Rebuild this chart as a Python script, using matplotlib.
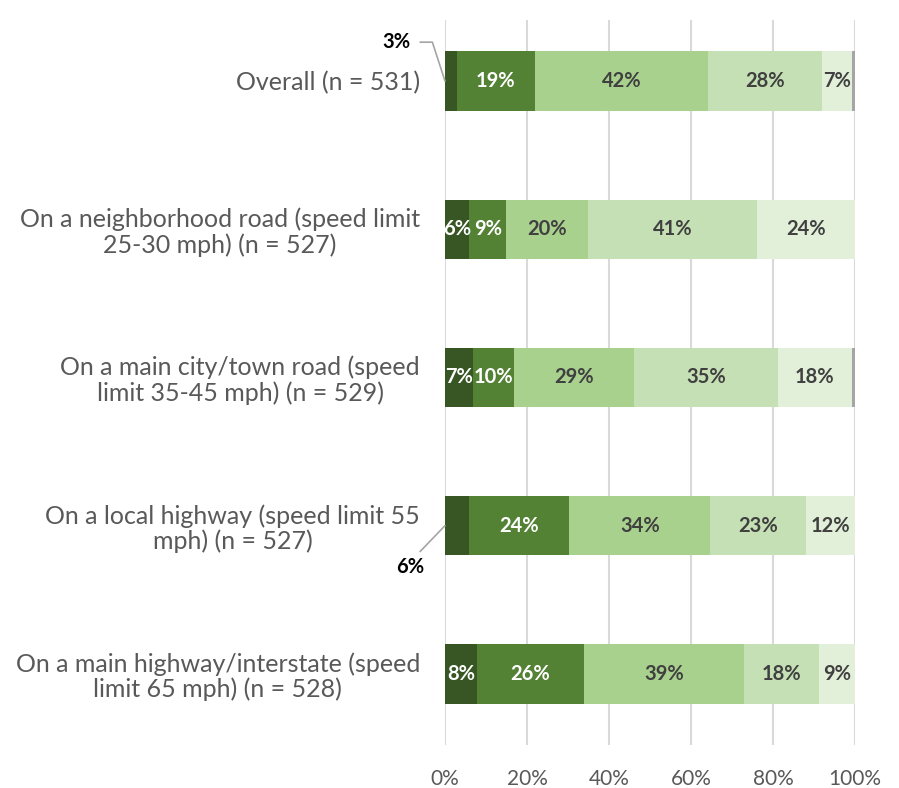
import matplotlib
matplotlib.use("Agg")
import matplotlib.pyplot as plt
import numpy as np

plt.rcParams['font.family'] = ['Lato', 'DejaVu Sans']

categories = [
    "Overall (n = 531)",
    "On a neighborhood road (speed limit\n25-30 mph) (n = 527)",
    "On a main city/town road (speed\nlimit 35-45 mph) (n = 529)",
    "On a local highway (speed limit 55\nmph) (n = 527)",
    "On a main highway/interstate (speed\nlimit 65 mph) (n = 528)",
]
seg1 = [2.9, 5.9, 6.8, 5.9, 7.8]
seg2 = [19.0, 9.0, 10.0, 24.4, 26.1]
seg3 = [42.2, 20.0, 29.3, 34.4, 39.0]
seg4 = [27.8, 41.2, 35.1, 23.4, 18.3]
seg5 = [7.3, 23.9, 18.0, 11.9, 8.8]
seg6 = [0.8, 0.0, 0.8, 0.0, 0.0]
xticks = [0, 20, 40, 60, 80, 100]
xticklabels = ["0%", "20%", "40%", "60%", "80%", "100%"]

series = [seg1, seg2, seg3, seg4, seg5, seg6]
colors = ["#375623", "#548235", "#A9D18E", "#C5E0B4", "#E2F0D9", "#A5A5A5"]
text_colors = ["white", "white", "#404040", "#404040", "#404040", None]

W, H = 899, 788
fig = plt.figure(figsize=(W / 100, H / 100), dpi=100)
ax = fig.add_axes([445 / W, 1 - 745 / H, 410 / W, 725 / H])

y = np.arange(len(categories))
left = np.zeros(len(categories))
for i, (vals, c) in enumerate(zip(series, colors)):
    vals = np.array(vals)
    ax.barh(y, vals, left=left, height=0.4, color=c, zorder=3)
    if text_colors[i] is not None:
        for j, v in enumerate(vals):
            if (i == 0 and j in (0, 3)):
                continue
            ax.text(left[j] + v / 2, y[j], f"{round(v)}%", ha="center", va="center",
                    color=text_colors[i], fontsize=14.5, fontweight="bold", zorder=4)
    left += vals

# callout labels for small segments
ax.annotate(f"{round(seg1[0])}%", xy=(0, y[0]), xytext=(-35, 28), textcoords="offset points",
            ha="center", va="center", fontsize=14.5, fontweight="bold", color="black",
            arrowprops=dict(arrowstyle="-", color="#A5A5A5", lw=1.2,
                            connectionstyle="angle,angleA=0,angleB=108,rad=0",
                            relpos=(1, 0.5), shrinkA=5, shrinkB=0), zorder=5)
ax.annotate(f"{round(seg1[3])}%", xy=(0, y[3]), xytext=(-25, -30), textcoords="offset points",
            ha="center", va="center", fontsize=14.5, fontweight="bold", color="black",
            arrowprops=dict(arrowstyle="-", color="#A5A5A5", lw=1.2,
                            relpos=(0.65, 1), shrinkA=3, shrinkB=0), zorder=5)

ax.set_ylim(4.48, -0.412)
ax.set_xlim(0, 100)
ax.set_yticks(y)
ax.set_yticklabels(categories, fontsize=18, color="#595959", linespacing=1.1,
                   multialignment="center")
ax.set_xticks(xticks)
ax.set_xticklabels(xticklabels, fontsize=15, color="#595959")
ax.tick_params(axis="both", length=0)
ax.tick_params(axis="y", pad=18)
ax.tick_params(axis="x", pad=17)
ax.grid(axis="x", color="#D9D9D9", lw=1.5, zorder=0)
for s in ax.spines.values():
    s.set_visible(False)

fig.savefig("out.png", dpi=100, facecolor="white")
